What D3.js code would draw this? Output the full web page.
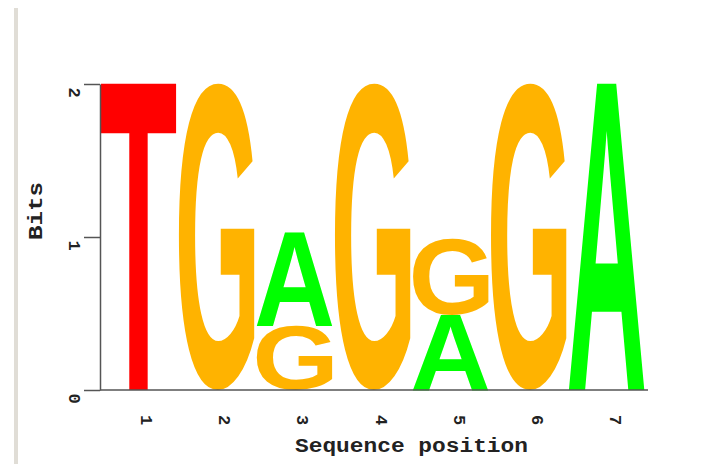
<!DOCTYPE html>
<html>
<head>
<meta charset="utf-8">
<script src="https://cdn.jsdelivr.net/npm/d3@7"></script>
<style>
  body { margin: 0; background: #fff; }
  svg { display: block; }
</style>
</head>
<body>
<svg id="logo" width="718" height="464"></svg>
<script>
// positions along the motif
const positions = [1, 2, 3, 4, 5, 6, 7];
// letters at each position, bottom to top, with their heights in bits
const letters = [
  ["T"],
  ["G"],
  ["G", "A"],
  ["G"],
  ["A", "G"],
  ["G"],
  ["A"]
];
const bits = [
  [2.0],
  [2.0],
  [0.42, 0.61],
  [2.0],
  [0.49, 0.50],
  [2.0],
  [2.0]
];
const yTicks = [0, 1, 2];

const colors = { A: "#00ff00", G: "#ffb300", T: "#ff0000", C: "#0000ff" };

const svg = d3.select("#logo");

// the grey strip on the left edge
svg.append("rect")
  .attr("x", 14).attr("y", 8)
  .attr("width", 4).attr("height", 456)
  .attr("fill", "#e0ddd6");

const x = d3.scaleBand()
  .domain(positions)
  .range([100, 645])
  .paddingInner(0.035)
  .paddingOuter(0.01);

const y = d3.scaleLinear()
  .domain([0, 2])
  .range([390, 84]);

// find the ink box of each glyph by drawing it on a canvas and scanning pixels,
// so each letter can be stretched to fill its box exactly
const fontSize = 400;
const letterFont = `bold ${fontSize}px 'Liberation Sans', Arial, sans-serif`;
const cw = 700, ch = 700, ox = 100, oy = 550;
const canvas = document.createElement("canvas");
canvas.width = cw; canvas.height = ch;
const ctx = canvas.getContext("2d");
const glyphBox = {};
["A", "C", "G", "T"].forEach(letter => {
  ctx.clearRect(0, 0, cw, ch);
  ctx.font = letterFont;
  ctx.fillStyle = "#000";
  ctx.fillText(letter, ox, oy);
  const px = ctx.getImageData(0, 0, cw, ch).data;
  let x0 = cw, x1 = 0, y0 = ch, y1 = 0;
  for (let j = 0; j < ch; j++) {
    for (let i = 0; i < cw; i++) {
      if (px[(j * cw + i) * 4 + 3] > 100) {
        if (i < x0) x0 = i;
        if (i > x1) x1 = i;
        if (j < y0) y0 = j;
        if (j > y1) y1 = j;
      }
    }
  }
  glyphBox[letter] = { left: ox - x0, ascent: oy - y0, w: x1 - x0 + 1, h: y1 - y0 + 1 };
});

const stacks = [];
positions.forEach((p, i) => {
  let base = 0;
  letters[i].forEach((ch, j) => {
    stacks.push({ pos: p, ch: ch, y0: base, y1: base + bits[i][j] });
    base += bits[i][j];
  });
});

svg.append("g").attr("class", "letters")
  .selectAll("text")
  .data(stacks)
  .enter()
  .append("text")
  .style("font", letterFont)
  .attr("fill", d => colors[d.ch])
  .attr("transform", d => {
    const g = glyphBox[d.ch];
    const w = x.bandwidth();
    const h = y(d.y0) - y(d.y1);
    return `translate(${x(d.pos)},${y(d.y1)}) scale(${w / g.w},${h / g.h}) translate(${g.left},${g.ascent})`;
  })
  .text(d => d.ch);

const labelFont = "'Liberation Mono', 'Courier New', monospace";

// y axis
const yAxis = svg.append("g")
  .attr("transform", "translate(100,0)")
  .call(d3.axisLeft(y).tickValues(yTicks).tickSize(16).tickSizeOuter(0).tickFormat(d3.format("d")));
yAxis.select(".domain").attr("stroke", "#555").attr("stroke-width", 1.5);
yAxis.selectAll(".tick line").attr("stroke", "#555").attr("stroke-width", 1.5);
yAxis.selectAll(".tick text")
  .attr("x", null).attr("dy", null)
  .attr("text-anchor", "start")
  .attr("transform", "translate(-31,3) rotate(90)")
  .style("font-family", labelFont)
  .style("font-weight", "bold")
  .style("font-size", "17px")
  .attr("fill", "#222");

// x axis
const xAxis = svg.append("g")
  .attr("transform", "translate(0,390)")
  .call(d3.axisBottom(x).tickSize(0).tickSizeOuter(0));
xAxis.select(".domain")
  .attr("d", "M100,0H648")
  .attr("stroke", "#555").attr("stroke-width", 1.5);
xAxis.selectAll(".tick text")
  .attr("y", null).attr("dy", null)
  .attr("text-anchor", "start")
  .attr("transform", "translate(3,25) rotate(90)")
  .style("font-family", labelFont)
  .style("font-weight", "bold")
  .style("font-size", "17px")
  .attr("fill", "#222");

// axis titles
svg.append("text")
  .attr("x", 295).attr("y", 452)
  .attr("textLength", 233)
  .attr("lengthAdjust", "spacingAndGlyphs")
  .style("font-family", labelFont)
  .style("font-weight", "bold")
  .style("font-size", "20px")
  .attr("fill", "#222")
  .text("Sequence position");

svg.append("text")
  .attr("transform", "translate(42,211) rotate(-90)")
  .attr("text-anchor", "middle")
  .attr("textLength", 58)
  .attr("lengthAdjust", "spacingAndGlyphs")
  .style("font-family", labelFont)
  .style("font-weight", "bold")
  .style("font-size", "20px")
  .attr("fill", "#222")
  .text("Bits");
</script>
</body>
</html>
